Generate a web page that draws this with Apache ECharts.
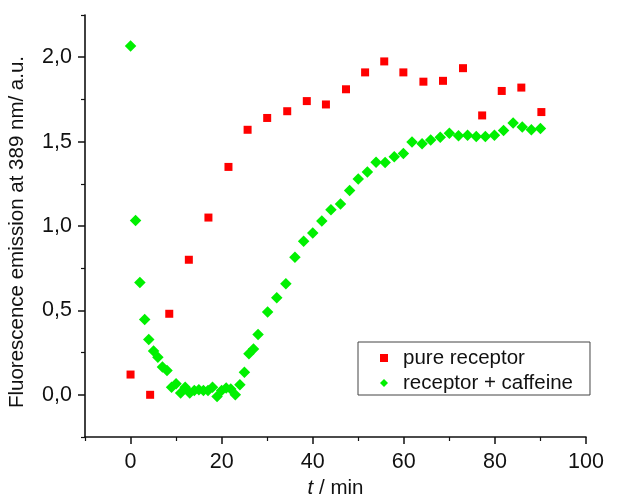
<!DOCTYPE html>
<html>
<head>
<meta charset="utf-8">
<script src="https://cdn.jsdelivr.net/npm/echarts@6/dist/echarts.min.js"></script>
<style>html,body{margin:0;padding:0;background:#fff;}#c{width:621px;height:495px;}</style>
</head>
<body>
<div id="c"></div>
<script>
// Data
var pureT = [0, 4.3, 8.5, 12.8, 17.1, 21.5, 25.7, 30.0, 34.4, 38.7, 42.9, 47.3, 51.5, 55.7, 59.9, 64.3, 68.6, 73.0, 77.2, 81.5, 85.8, 90.2];
var pureY = [0.12, 0.0, 0.48, 0.80, 1.05, 1.35, 1.57, 1.64, 1.68, 1.74, 1.72, 1.81, 1.91, 1.975, 1.91, 1.855, 1.86, 1.935, 1.655, 1.80, 1.82, 1.675];
var cafT = [0, 1.1, 2.05, 3.1, 4.0, 5.05, 6.0, 7.0, 8.0, 9.0, 10.0, 11.0, 12.0, 13.0, 14.0, 15.0, 16.0, 17.0, 18.0, 19.0, 20.0, 21.0, 22.0, 23.0, 24.0, 25.0, 26.0, 27.0, 28.0, 30.1, 32.1, 34.1, 36.1, 38.0, 40.0, 42.0, 44.0, 46.1, 48.1, 50.0, 52.0, 53.9, 55.9, 57.9, 59.9, 61.8, 64.0, 65.9, 68.0, 70.0, 72.0, 74.0, 75.9, 77.9, 79.9, 81.9, 84.0, 86.0, 88.0, 90.0];
var cafY = [2.067, 1.033, 0.665, 0.446, 0.328, 0.259, 0.223, 0.164, 0.144, 0.045, 0.065, 0.01, 0.045, 0.01, 0.026, 0.03, 0.026, 0.026, 0.045, -0.01, 0.026, 0.04, 0.035, 0.0, 0.06, 0.134, 0.243, 0.272, 0.357, 0.49, 0.575, 0.658, 0.815, 0.91, 0.958, 1.029, 1.096, 1.13, 1.21, 1.278, 1.32, 1.378, 1.376, 1.41, 1.43, 1.497, 1.487, 1.51, 1.526, 1.55, 1.534, 1.538, 1.53, 1.53, 1.538, 1.566, 1.61, 1.586, 1.57, 1.578];
var xMajorTicks = [0, 20, 40, 60, 80, 100];
var xMinorTicks = [-10, 10, 30, 50, 70, 90];
var yMajorTicks = [0, 0.5, 1.0, 1.5, 2.0];
var yMinorTicks = [-0.25, 0.25, 0.75, 1.25, 1.75, 2.25];
var seriesNames = ['pure receptor', 'receptor + caffeine'];

function zip(a, b) { return a.map(function (v, i) { return [v, b[i]]; }); }
var FONT = 'Liberation Sans, Arial, sans-serif';
var chart = echarts.init(document.getElementById('c'), null, {renderer: 'canvas'});
var axLine = {show: true, onZero: false, lineStyle: {color: '#111', width: 1.6}};
chart.setOption({
  animation: false,
  backgroundColor: '#fff',
  grid: {left: 85, right: 35, top: 15, bottom: 58, containLabel: false, outerBoundsMode: 'none'},
  xAxis: [{
    type: 'value', min: -10, max: 100, position: 'bottom',
    axisLine: axLine,
    axisTick: {show: true, customValues: xMajorTicks, length: 7, inside: false, lineStyle: {color: '#111', width: 1.5}},
    axisLabel: {customValues: xMajorTicks, fontSize: 21.5, color: '#111', fontFamily: FONT, margin: 14},
    splitLine: {show: false},
    name: '{i|t} / min', nameLocation: 'middle', nameGap: 41,
    nameTextStyle: {fontSize: 20.5, color: '#111', fontFamily: FONT, rich: {i: {fontStyle: 'italic', fontSize: 20.5, fontFamily: FONT}}}
  }, {
    type: 'value', min: -10, max: 100, position: 'bottom', gridIndex: 0,
    axisLine: {show: false, onZero: false},
    axisTick: {show: true, customValues: xMinorTicks, length: 4, lineStyle: {color: '#111', width: 1.2}},
    axisLabel: {show: false}, splitLine: {show: false}
  }],
  yAxis: [{
    type: 'value', min: -0.25, max: 2.25, position: 'left',
    axisLine: axLine,
    axisTick: {show: true, customValues: yMajorTicks, length: 7, lineStyle: {color: '#111', width: 1.5}},
    axisLabel: {customValues: yMajorTicks, fontSize: 21.5, color: '#111', fontFamily: FONT, margin: 13,
      formatter: function (v) { return v.toFixed(1).replace('.', ','); }},
    splitLine: {show: false},
    name: 'Fluorescence emission at 389 nm/ a.u.', nameLocation: 'middle', nameGap: 57, nameRotate: 90,
    nameTextStyle: {fontSize: 20.5, color: '#111', fontFamily: FONT, padding: [0, 12, 0, 0]}
  }, {
    type: 'value', min: -0.25, max: 2.25, position: 'left', offset: 0, gridIndex: 0,
    axisLine: {show: false, onZero: false},
    axisTick: {show: true, customValues: yMinorTicks, length: 4, lineStyle: {color: '#111', width: 1.2}},
    axisLabel: {show: false}, splitLine: {show: false}
  }],
  legend: {
    left: 358, top: 342, orient: 'vertical',
    borderColor: '#444', borderWidth: 1, borderRadius: 0,
    padding: [5, 17, 1, 22], itemGap: 3, itemWidth: 8, itemHeight: 8,
    textStyle: {fontSize: 20.5, lineHeight: 22, color: '#111', fontFamily: FONT, padding: [0, 0, 0, 10]},
    data: [
      {name: seriesNames[0], icon: 'rect', itemStyle: {color: '#ff0000'}},
      {name: seriesNames[1], icon: 'diamond', itemStyle: {color: '#00f000'}}
    ]
  },
  series: [{
    name: seriesNames[0], type: 'scatter', xAxisIndex: 0, yAxisIndex: 0,
    symbol: 'rect', symbolSize: 8, itemStyle: {color: '#ff0000', opacity: 1},
    data: zip(pureT, pureY)
  }, {
    name: seriesNames[1], type: 'scatter', xAxisIndex: 0, yAxisIndex: 0,
    symbol: 'diamond', symbolSize: 11.5, itemStyle: {color: '#00f000', opacity: 1},
    data: zip(cafT, cafY)
  }]
});
</script>
</body>
</html>
